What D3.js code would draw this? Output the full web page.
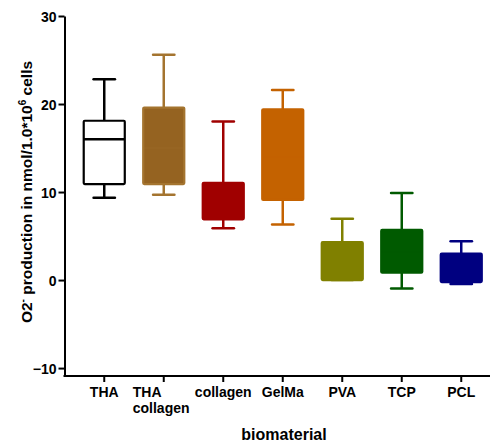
<!DOCTYPE html>
<html><head><meta charset="utf-8">
<script src="https://cdn.jsdelivr.net/npm/d3@7"></script>
<style>body{margin:0;background:#fff}svg{display:block}text{font-family:"Liberation Sans",Arial,sans-serif;font-weight:bold}</style>
</head><body>
<svg id="c" width="490" height="443"></svg>
<script>
const categories = ["THA", "THA\ncollagen", "collagen", "GelMa", "PVA", "TCP", "PCL"];
const whiskerLow  = [9.35, 9.7, 5.9, 6.3, 0.0, -0.95, -0.45];
const boxLow      = [10.9, 10.9, 6.9, 9.1, 0.0, 0.83, -0.23];
const medians     = [16.0, 15.0, 8.8, 14.0, 2.0, 3.2, 0.87];
const boxHigh     = [18.1, 19.6, 11.05, 19.4, 4.3, 5.7, 3.0];
const whiskerHigh = [22.8, 25.6, 18.0, 21.6, 6.97, 9.9, 4.4];
const fills   = ["#ffffff", "#956321", "#a00000", "#c46200", "#808000", "#005a00", "#000080"];
const strokes = ["#000000", "#a4742f", "#a00000", "#c46200", "#808000", "#005a00", "#000080"];
const yTicks = [-10, 0, 10, 20, 30];

const svg = d3.select("#c");
const y = d3.scaleLinear().domain([-10.9, 30]).range([376, 16]);
const x = d3.scaleBand().domain(categories).range([74.5, 491]).paddingInner(0.31).paddingOuter(0.155);
const bw = x.bandwidth();
const cx = c => x(c) + bw / 2;

const data = categories.map((c, i) => ({c, i}));
const g = svg.append("g");
data.forEach(d => {
  const i = d.i, xc = cx(d.c), col = strokes[i];
  const gg = g.append("g");
  gg.append("line").attr("x1", xc).attr("x2", xc).attr("y1", y(whiskerHigh[i])).attr("y2", y(boxHigh[i]))
    .attr("stroke", col).attr("stroke-width", 2.5);
  gg.append("line").attr("x1", xc).attr("x2", xc).attr("y1", y(boxLow[i])).attr("y2", y(whiskerLow[i]))
    .attr("stroke", col).attr("stroke-width", 2.5);
  [whiskerHigh[i], whiskerLow[i]].forEach(v => {
    gg.append("line").attr("x1", xc - bw * 0.26).attr("x2", xc + bw * 0.26).attr("y1", y(v)).attr("y2", y(v))
      .attr("stroke", col).attr("stroke-width", 2.5).attr("stroke-linecap", "round");
  });
  gg.append("rect").attr("x", x(d.c)).attr("width", bw)
    .attr("y", y(boxHigh[i])).attr("height", Math.max(0, y(boxLow[i]) - y(boxHigh[i])))
    .attr("fill", fills[i]).attr("stroke", col).attr("stroke-width", 2.2).attr("rx", 1);
  gg.append("line").attr("x1", x(d.c)).attr("x2", x(d.c) + bw).attr("y1", y(medians[i])).attr("y2", y(medians[i]))
    .attr("stroke", i === 0 ? "#000" : col).attr("stroke-width", i === 0 ? 2.5 : 1).attr("opacity", i === 0 ? 1 : 0.35);
});

// y axis
const ya = svg.append("g").attr("transform", "translate(64.5,0)")
  .call(d3.axisLeft(y).tickValues(yTicks).tickSize(6).tickSizeOuter(0).tickFormat(d3.format("d")));
ya.select(".domain").attr("stroke", "#000").attr("stroke-width", 2);
ya.selectAll(".tick line").attr("stroke", "#000").attr("stroke-width", 2);
ya.selectAll(".tick text").attr("font-size", 14).attr("fill", "#000").attr("x", -8).attr("dy", "0.36em")
  .style("font-family", '"Liberation Sans",Arial,sans-serif').style("font-weight", "bold");

// x axis
const xa = svg.append("g").attr("transform", "translate(0,376)")
  .call(d3.axisBottom(x).tickSize(6).tickSizeOuter(0).tickFormat(""));
xa.select(".domain").attr("stroke", "#000").attr("stroke-width", 2).attr("d", "M63.5,0H490");
xa.selectAll(".tick line").attr("stroke", "#000").attr("stroke-width", 2);
xa.selectAll(".tick").each(function(d) {
  const lines = d.split("\n");
  const multi = lines.length > 1;
  const t = d3.select(this).append("text").attr("fill", "#000").attr("font-size", 14)
    .attr("text-anchor", multi ? "start" : "middle").attr("y", 21);
  lines.forEach((l, k) => t.append("tspan").attr("x", multi ? -31 : 0).attr("dy", k ? 15.5 : 0).text(l));
});

// axis titles
svg.append("text").attr("x", 284).attr("y", 440).attr("text-anchor", "middle").attr("font-size", 16).attr("fill", "#000").text("biomaterial");
const yl = svg.append("text").attr("transform", "translate(32,192) rotate(-90)").attr("text-anchor", "middle")
  .attr("font-size", 15.5).attr("fill", "#000");
yl.append("tspan").text("O2");
yl.append("tspan").attr("font-size", 10).attr("dy", -6).text("-");
yl.append("tspan").attr("dy", 6).text(" production in nmol/1.0*10");
yl.append("tspan").attr("font-size", 10).attr("dy", -6).text("6");
yl.append("tspan").attr("dy", 6).text(" cells");
</script>
</body></html>
